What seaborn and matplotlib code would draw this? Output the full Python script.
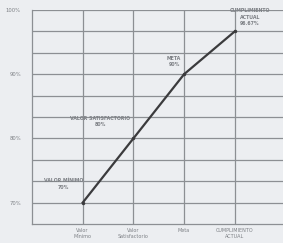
import matplotlib
matplotlib.use('Agg')
import matplotlib.pyplot as plt
import seaborn as sns
import numpy as np
import pandas as pd

# Data
categories = ['Valor\nMínimo', 'Valor\nSatisfactorio', 'Meta', 'CUMPLIMIENTO\nACTUAL']
values = [70, 80, 90, 96.67]
point_labels = ['VALOR MÍNIMO\n70%', 'VALOR SATISFACTORIO\n80%', 'META\n90%',
                'CUMPLIMIENTO\nACTUAL\n96.67%']
ytick_values = [70, 80, 90, 100]
ytick_labels = ['70%', '80%', '90%', '100%']

BG = '#eceef1'
GRID = '#8c8f93'
TEXT = '#7d8085'

df = pd.DataFrame({'pos': np.arange(len(categories)), 'value': values})

fig = plt.figure(figsize=(2.83, 2.43), dpi=100, facecolor=BG)
ax = fig.add_axes([0.113, 0.078, 0.887, 0.881], facecolor=BG)

sns.lineplot(ax=ax, data=df, x='pos', y='value', color='#3b3b3d', linewidth=1.6,
             marker='o', markersize=2.5, markeredgewidth=0)

# Grid: horizontal lines every 10/3 %, vertical lines at each category
ymin = 100 - 10 * 10 / 3
ax.set_xlim(-1, 3.95)
ax.set_ylim(ymin, 100)
ax.grid(False)
for x in np.arange(0, 4):
    ax.axvline(x, color=GRID, linewidth=0.9, zorder=0)
for y in np.arange(1, 11) * 10 / 3 + ymin:
    ax.axhline(y, color=GRID, linewidth=0.9, zorder=0)

for side in ['top', 'right']:
    ax.spines[side].set_visible(False)
for side in ['left', 'bottom']:
    ax.spines[side].set_color(GRID)
    ax.spines[side].set_linewidth(0.9)

# Ticks
ax.set_xticks(np.arange(len(categories)))
ax.set_xticklabels(categories, fontsize=3.5, color=TEXT, linespacing=1.3)
ax.set_yticks(ytick_values)
ax.set_yticklabels(ytick_labels, fontsize=3.8, color=TEXT)
ax.tick_params(axis='x', length=0, pad=3)
ax.tick_params(axis='y', length=0, pad=8)
ax.set_xlabel('')
ax.set_ylabel('')

# Point labels
offsets = [(-19, 13), (-33, 11), (-10, 7), (15, 5)]
for i, (lbl, off) in enumerate(zip(point_labels, offsets)):
    ax.annotate(lbl, (i, values[i]), xytext=off, textcoords='offset pixels',
                ha='center', va='bottom', fontsize=3.4, color=TEXT,
                linespacing=1.4, fontweight='bold')

plt.savefig('out.png', dpi=100, facecolor=BG)
